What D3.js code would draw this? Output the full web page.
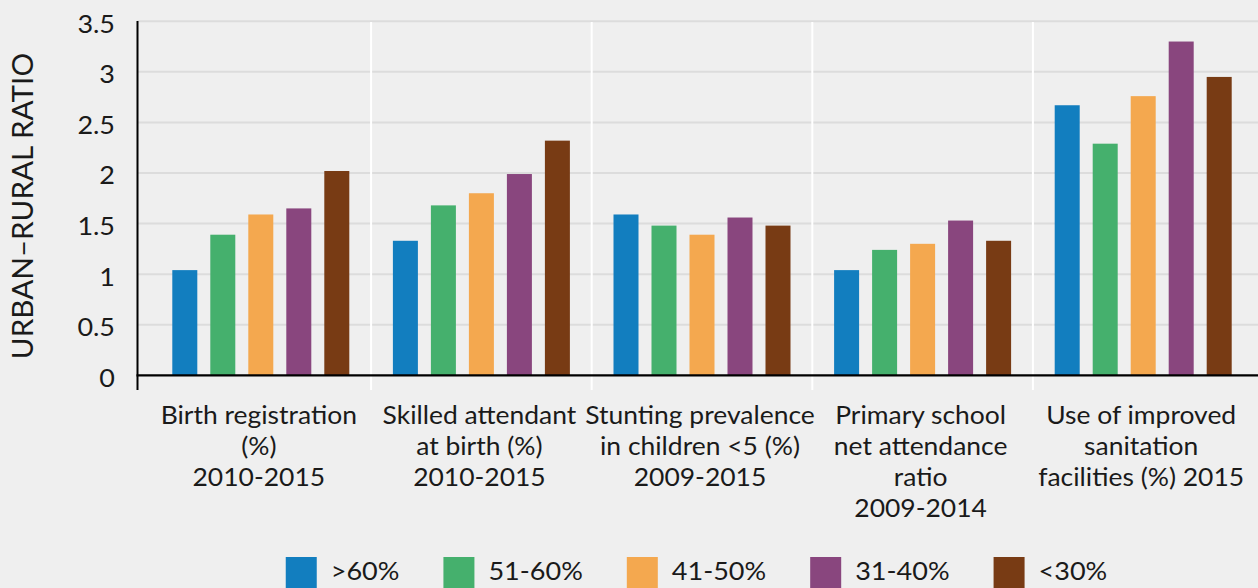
<!DOCTYPE html>
<html><head><meta charset="utf-8">
<script src="https://cdn.jsdelivr.net/npm/d3@7"></script>
<style>
html,body{margin:0;padding:0;background:#efefef;}
svg{display:block;font-family:Lato,"Open Sans",sans-serif;}
</style></head>
<body>
<svg id="chart" width="1258" height="588"></svg>
<script>
const categories = [
  ["Birth registration","(%)","2010-2015"],
  ["Skilled attendant","at birth (%)","2010-2015"],
  ["Stunting prevalence","in children <5 (%)","2009-2015"],
  ["Primary school","net attendance","ratio","2009-2014"],
  ["Use of improved","sanitation","facilities (%) 2015"]
];
const seriesNames = [">60%","51-60%","41-50%","31-40%","<30%"];
const seriesColors = ["#127ebf","#45b06d","#f4a84f","#89467e","#783b14"];
const s60plus = [1.04, 1.33, 1.59, 1.04, 2.67];
const s51_60  = [1.39, 1.68, 1.48, 1.24, 2.29];
const s41_50  = [1.59, 1.80, 1.39, 1.30, 2.76];
const s31_40  = [1.65, 1.99, 1.56, 1.53, 3.30];
const s30less = [2.02, 2.32, 1.48, 1.33, 2.95];
const seriesValues = [s60plus, s51_60, s41_50, s31_40, s30less];
const yTicks = [0, 0.5, 1, 1.5, 2, 2.5, 3, 3.5];
const yTickLabels = ["0","0.5","1","1.5","2","2.5","3","3.5"];
const yTitle = "URBAN\u2013RURAL RATIO";

const svg = d3.select("#chart");
const axisX = 137.5, plotRight = 1258;
const FS = 24.5, SX = 1.08, TXT = "#1a1a1a";
const x0 = d3.scaleBand().domain(d3.range(categories.length)).range([150.5, 1253.5]).padding(0);
const y = d3.scaleLinear().domain([0, 3.5]).range([375.3, 21.3]);
const barStep = 38, barW = 25;
const x1 = d3.scaleBand().domain(d3.range(seriesNames.length))
  .range([-barStep*seriesNames.length/2, barStep*seriesNames.length/2])
  .paddingInner((barStep-barW)/barStep).paddingOuter((barStep-barW)/barStep/2);

// gridlines
svg.append("g").selectAll("line").data(yTicks.filter(d=>d>0)).join("line")
  .attr("x1", axisX).attr("x2", plotRight)
  .attr("y1", d=>y(d)).attr("y2", d=>y(d))
  .attr("stroke", "#dcdcdc").attr("stroke-width", 2);

// vertical separators
svg.append("g").selectAll("line").data(d3.range(1, categories.length)).join("line")
  .attr("x1", d=>x0(d)).attr("x2", d=>x0(d))
  .attr("y1", 22).attr("y2", 390)
  .attr("stroke", "#ffffff").attr("stroke-width", 2);

// bars
const groups = svg.append("g").selectAll("g").data(categories).join("g")
  .attr("transform", (d,i)=>`translate(${x0(i)+x0.bandwidth()/2},0)`);
groups.selectAll("rect").data((d,i)=>seriesValues.map((s,j)=>({j, v:s[i]}))).join("rect")
  .attr("x", d=>x1(d.j)).attr("width", x1.bandwidth())
  .attr("y", d=>y(d.v)).attr("height", d=>y(0)-y(d.v))
  .attr("fill", d=>seriesColors[d.j]);

// x axis line
svg.append("line").attr("x1", axisX-1).attr("x2", plotRight).attr("y1", y(0)).attr("y2", y(0))
  .attr("stroke", "#000").attr("stroke-width", 2.2);
// y axis line
svg.append("line").attr("x1", axisX).attr("x2", axisX).attr("y1", 21).attr("y2", 390)
  .attr("stroke", "#000").attr("stroke-width", 2);

// y tick labels
svg.append("g").selectAll("text").data(yTicks).join("text")
  .attr("transform", d=>`translate(115,${y(d)+11.4}) scale(1.1,1)`)
  .attr("text-anchor", "end").attr("font-size", FS).attr("fill", TXT)
  .text((d,i)=>yTickLabels[i]);

// y title
svg.append("text").attr("transform", "translate(33,206) rotate(-90) scale(1.06,1)")
  .attr("text-anchor", "middle").attr("font-size", 28).attr("fill", TXT)
  .text(yTitle);

// category labels
const catG = svg.append("g").selectAll("g").data(categories).join("g")
  .attr("transform", (d,i)=>`translate(${x0(i)+x0.bandwidth()/2 - 2},0)`);
catG.selectAll("text").data(d=>d).join("text")
  .attr("transform", (d,k)=>`translate(0,${424 + k*31}) scale(${SX},1)`)
  .attr("text-anchor", "middle").attr("font-size", FS).attr("fill", TXT)
  .text(d=>d);

// legend
const leg = svg.append("g");
let lx = 0;
seriesNames.forEach((n,i)=>{
  const g = leg.append("g").attr("transform", `translate(${lx},0)`);
  g.append("rect").attr("x", 0).attr("y", 557).attr("width", 31).attr("height", 35).attr("fill", seriesColors[i]);
  const t = g.append("text").attr("transform", `translate(45,580) scale(1.06,1)`)
    .attr("font-size", 25.5).attr("fill", TXT).text(n);
  const w = t.node().getComputedTextLength() * 1.06;
  lx += 45 + w + 44;
});
const totalW = lx - 44;
leg.attr("transform", `translate(${696.5 - totalW/2},0)`);
</script>
</body></html>
